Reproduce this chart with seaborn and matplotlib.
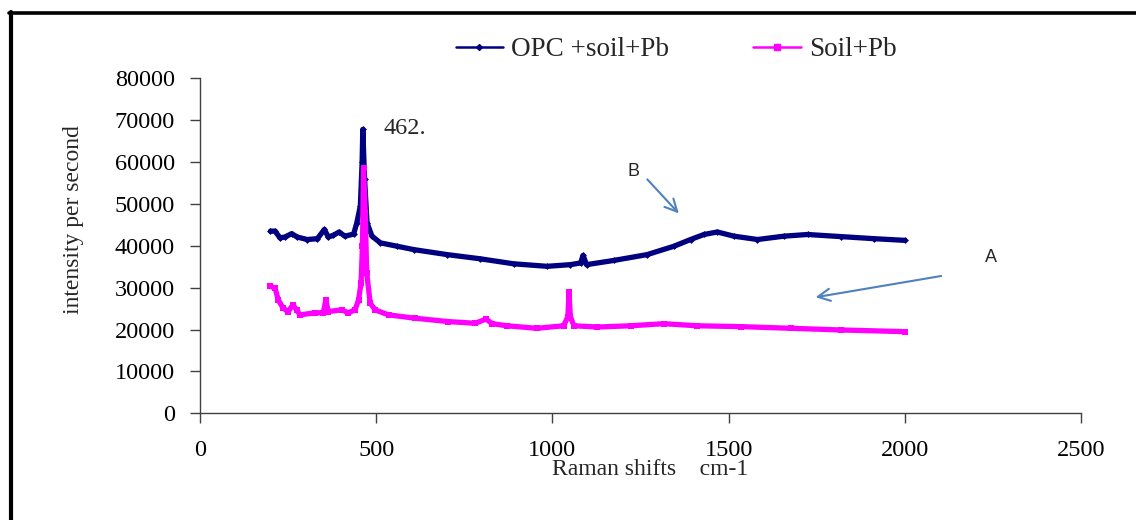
import matplotlib
matplotlib.use("Agg")
import matplotlib.pyplot as plt
from matplotlib.lines import Line2D
import seaborn as sns
import pandas as pd

# ---- data ----
opc_x = [200, 213, 227, 241, 260, 276, 304, 333, 353, 364, 378, 395, 411, 436, 445,
         455, 460, 462, 467, 474, 488, 512, 559, 606, 701, 795, 890, 985, 1051, 1080,
         1087, 1097, 1174, 1269, 1345, 1392, 1430, 1468, 1515, 1582, 1657, 1724, 1818,
         1913, 2000]
opc_y = [43500, 43500, 41900, 42100, 42900, 42100, 41500, 41700, 43900, 42100, 42500,
         43300, 42300, 42800, 45500, 49500, 59900, 67800, 55900, 45500, 42300, 40700,
         39900, 39100, 37900, 36900, 35700, 35100, 35500, 35900, 37700, 35500, 36500,
         37900, 39900, 41500, 42700, 43300, 42300, 41500, 42300, 42700, 42200, 41700,
         41300]

soil_x = [200, 213, 222, 236, 250, 264, 274, 284, 326, 350, 357, 364, 402, 421, 440,
          450, 457, 461, 464, 469, 473, 483, 497, 535, 611, 705, 781, 812, 829, 871,
          956, 1032, 1044, 1047, 1051, 1061, 1127, 1222, 1316, 1411, 1534, 1676, 1818,
          2000]
soil_y = [30300, 29900, 27100, 25100, 24300, 25900, 24700, 23500, 24000, 24000, 27100,
          24300, 24700, 24000, 24700, 27100, 31100, 39900, 58500, 47900, 33500, 26300,
          24700, 23500, 22700, 21900, 21500, 22500, 21400, 20900, 20300, 20900, 23100,
          28900, 23100, 20900, 20600, 20900, 21400, 20900, 20700, 20300, 19900, 19500]

series_names = ["OPC +soil+Pb", "Soil+Pb"]
series_colors = ["#000080", "#FF00FF"]
x_ticks = [0, 500, 1000, 1500, 2000, 2500]
y_ticks = [0, 10000, 20000, 30000, 40000, 50000, 60000, 70000, 80000]

sns.set_theme(style="white")
plt.rcParams["font.family"] = ["Liberation Serif", "DejaVu Serif"]

W, H = 1136, 520
fig = plt.figure(figsize=(W / 100, H / 100), dpi=100)
ax = fig.add_axes([200 / W, 1 - 413.3 / H, 881 / W, (413.3 - 78.3) / H])

df_opc = pd.DataFrame({"x": opc_x, "y": opc_y})
df_soil = pd.DataFrame({"x": soil_x, "y": soil_y})

sns.lineplot(data=df_opc, x="x", y="y", ax=ax, color=series_colors[0], lw=3.8,
             marker="D", markersize=3.5, markeredgewidth=0, sort=False,
             estimator=None, zorder=3)
sns.lineplot(data=df_soil, x="x", y="y", ax=ax, color=series_colors[1], lw=3.8,
             marker="s", markersize=4.5, markeredgewidth=0, sort=False,
             estimator=None, zorder=3)

ax.set_xlim(0, 2500)
ax.set_ylim(0, 80000)
ax.set_xticks(x_ticks)
ax.set_yticks(y_ticks)
ax.set_xticklabels([str(v) for v in x_ticks])
ax.set_yticklabels([str(v) for v in y_ticks])

for s in ["top", "right"]:
    ax.spines[s].set_visible(False)
for s in ["left", "bottom"]:
    ax.spines[s].set_color("#404040")
    ax.spines[s].set_linewidth(1.0)

ax.tick_params(axis="both", direction="out", length=7, width=1, color="#404040",
               labelsize=17.5, labelcolor="black", left=True, bottom=True)
ax.tick_params(axis="y", pad=11)
ax.tick_params(axis="x", pad=12)

ax.set_xlabel("Raman shifts    cm-1", fontsize=17)
ax.xaxis.set_label_coords((650 - 200) / 881, -(459 - 413.3) / 335)
ax.set_ylabel("intensity per second", fontsize=17)
ax.yaxis.set_label_coords((84 - 200) / 881, (413.3 - 220) / 335)

# legend
handles = [
    Line2D([], [], color=series_colors[0], lw=1.8, marker="D", markersize=3),
    Line2D([], [], color=series_colors[1], lw=1.8, marker="s", markersize=4),
]
fig.legend(handles, series_names, loc="center", bbox_to_anchor=(676 / W, 1 - 50 / H),
           ncol=2, frameon=False, fontsize=19.5, handlelength=1.75, handletextpad=0.3,
           columnspacing=3.1)

# annotations
ax.text(520, 68000, "462.", fontsize=17.5, ha="left", va="center")
arrow_col = "#4F81BD"
ax.text(1230, 57800, "B", fontsize=13, ha="center", va="center",
        family=["Liberation Sans", "DejaVu Sans"])
ax.annotate("", xy=(1364, 47250), xytext=(1264, 56350),
            arrowprops=dict(arrowstyle="->", color=arrow_col, lw=1.5,
                            mutation_scale=22))
ax.text(2245, 37200, "A", fontsize=13, ha="center", va="center",
        family=["Liberation Sans", "DejaVu Sans"])
ax.annotate("", xy=(1739, 27600), xytext=(2111, 32900),
            arrowprops=dict(arrowstyle="->", color=arrow_col, lw=1.5,
                            mutation_scale=22), annotation_clip=False)

# outer frame (left and top edges visible)
fig.add_artist(Line2D([10.5 / W, 10.5 / W], [0, 1 - 12 / H], transform=fig.transFigure,
                      color="black", lw=3.0))
fig.add_artist(Line2D([9 / W, 1], [1 - 13 / H, 1 - 13 / H], transform=fig.transFigure,
                      color="black", lw=2.6))

fig.savefig("out.png", dpi=100)
